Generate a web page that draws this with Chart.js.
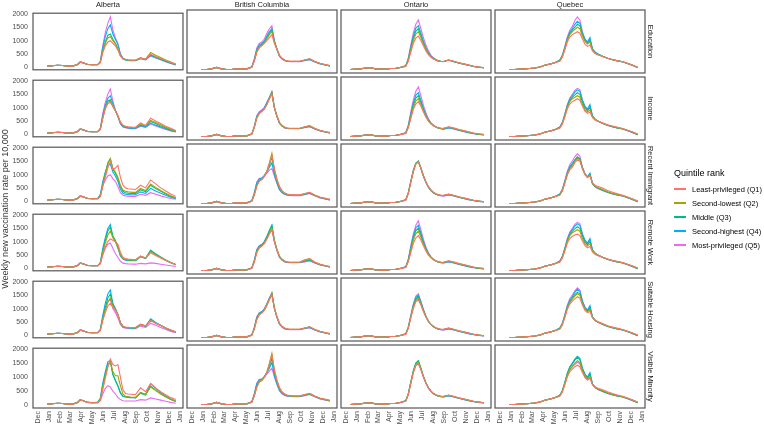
<!DOCTYPE html>
<html>
<head>
<meta charset="utf-8">
<script src="https://cdn.jsdelivr.net/npm/chart.js@4/dist/chart.umd.min.js"></script>
<style>
body{margin:0;background:#fff;width:764px;height:428px;position:relative;overflow:hidden;font-family:"Liberation Sans",Arial,sans-serif}
canvas{position:absolute}
.txt{position:absolute;white-space:nowrap;color:#1a1a1a}
</style>
</head>
<body>
<script>
// x = days since 1 Dec 2020
const days = [13,27,41,55,69,83,97,111,118,125,139,153,167,174,181,188,195,202,209,216,223,230,237,244,251,258,265,272,286,300,314,328,342,356,370,384];
const monthTicks = [0,31,62,90,121,151,182,212,243,274,304,335,365,396];
const monthLabels = ['Dec','Jan','Feb','Mar','Apr','May','Jun','Jul','Aug','Sep','Oct','Nov','Dec','Jan'];
const yTicks = [0,500,1000,1500,2000];
const provinces = ['Alberta','British Columbia','Ontario','Quebec'];
const measures = ['Education','Income','Recent Immigrant','Remote Work','Suitable Housing','Visible Minority'];
const quintiles = ['Least-privileged (Q1)','Second-lowest (Q2)','Middle (Q3)','Second-highest (Q4)','Most-privileged (Q5)'];
const colors = ['#F8766D','#A3A500','#00BF7D','#00B0F6','#E76BF3'];

// values before mid-May, shared by quintiles of a province
const albertaEarly = [null,40,50,70,60,40,40,100,190,170,100,90];
const bcEarly = [null,20,20,40,90,40,20,20,30,40,40,40];
const ontarioEarly = [20,30,40,70,80,40,30,30,40,50,60,90];
const quebecEarly = [null,20,20,30,40,50,70,100,130,160,200,250];

const albertaEducation = [
  albertaEarly.concat([90,170,550,800,950,1000,900,800,650,420,320,290,270,260,260,260,340,290,490,400,330,250,180,110]),
  albertaEarly.concat([90,180,600,900,1100,1150,1000,880,700,440,330,300,280,270,270,270,350,300,550,450,360,270,190,120]),
  albertaEarly.concat([90,180,650,950,1200,1250,1050,900,700,430,310,270,250,240,240,240,320,270,460,380,300,220,160,100]),
  albertaEarly.concat([100,200,750,1150,1450,1600,1250,1050,850,480,330,280,260,250,250,250,340,290,440,360,290,210,150,90]),
  albertaEarly.concat([100,210,800,1300,1650,1900,1400,1100,900,500,340,290,270,260,250,250,350,290,420,350,280,200,140,80])
];
const albertaIncome = [
  albertaEarly.concat([90,180,600,950,1150,1200,1050,880,700,450,340,300,280,270,260,260,420,330,600,500,400,300,220,140]),
  albertaEarly.concat([90,180,620,980,1200,1250,1050,880,700,440,330,290,270,260,250,250,380,310,520,440,350,260,190,120]),
  albertaEarly.concat([90,180,620,1000,1250,1300,1050,880,680,420,310,270,250,240,240,240,350,300,480,400,310,230,160,100]),
  albertaEarly.concat([100,200,700,1100,1350,1450,1150,900,680,400,290,250,230,220,220,220,320,270,420,340,270,200,140,90]),
  albertaEarly.concat([100,220,780,1200,1500,1700,1250,900,650,380,270,240,220,210,210,210,300,250,380,310,240,180,120,80])
];
const albertaImmigrant = [
  albertaEarly.concat([90,170,550,900,1250,1500,1200,1250,1350,900,600,500,470,460,450,440,600,500,800,650,500,380,270,180]),
  albertaEarly.concat([90,180,600,1000,1400,1600,1250,1100,900,600,420,370,350,340,330,330,480,400,650,520,400,300,200,130]),
  albertaEarly.concat([90,180,620,1050,1450,1600,1200,1050,850,550,370,320,300,290,290,290,430,350,600,480,370,270,180,120]),
  albertaEarly.concat([110,250,750,1100,1350,1400,1100,950,750,450,300,260,250,240,240,240,350,290,480,380,300,220,150,100]),
  albertaEarly.concat([100,220,600,800,950,1000,850,750,550,320,220,200,190,180,180,180,260,220,320,260,200,150,100,70])
];
const albertaRemote = [
  albertaEarly.concat([90,170,500,800,1000,1100,1050,1000,900,600,400,360,340,330,320,320,450,380,580,480,380,290,200,130]),
  albertaEarly.concat([90,180,600,950,1250,1400,1150,1000,800,500,370,340,320,310,310,310,450,380,620,500,400,300,210,140]),
  albertaEarly.concat([90,180,650,1050,1400,1550,1200,1050,800,500,360,320,300,290,290,290,440,370,680,540,420,310,210,140]),
  albertaEarly.concat([100,210,750,1150,1500,1650,1200,1000,750,460,340,300,290,280,280,280,430,360,650,520,400,300,200,130]),
  albertaEarly.concat([90,170,500,750,900,950,750,550,400,260,190,170,160,155,150,150,180,160,200,180,150,120,90,60])
];
const albertaHousing = [
  albertaEarly.concat([90,170,550,850,1100,1200,1050,950,780,470,340,310,300,290,290,290,420,350,550,450,360,270,190,120]),
  albertaEarly.concat([90,180,600,950,1250,1400,1100,950,780,470,330,300,290,280,280,280,410,340,560,450,360,270,190,120]),
  albertaEarly.concat([90,180,650,1050,1400,1550,1150,1000,780,460,320,290,280,270,270,270,400,330,580,460,360,260,180,120]),
  albertaEarly.concat([100,210,750,1200,1550,1700,1200,1000,780,460,320,290,280,270,270,270,400,330,620,480,370,270,180,120]),
  albertaEarly.concat([100,200,650,1000,1250,1350,1000,850,650,400,290,260,250,240,240,240,340,290,450,370,290,210,140,90])
];
const albertaMinority = [
  albertaEarly.concat([90,170,550,950,1350,1650,1450,1400,1450,1000,550,420,400,390,380,380,620,480,780,620,480,370,270,200]),
  albertaEarly.concat([90,180,650,1050,1400,1550,1200,1050,1050,700,400,320,300,290,285,280,450,380,650,520,400,300,200,130]),
  albertaEarly.concat([100,200,700,1100,1450,1550,1100,880,700,450,320,290,280,270,265,260,430,360,680,540,410,300,200,130]),
  albertaEarly.concat([110,250,800,1200,1550,1600,1100,890,680,430,320,300,290,280,275,270,460,380,760,600,450,330,220,150]),
  albertaEarly.concat([90,160,400,600,700,650,500,400,280,200,160,150,150,150,150,150,200,180,260,220,180,140,100,70])
];

const bcEducation = [
  bcEarly.concat([90,300,600,750,820,900,1000,1100,1200,900,700,500,400,340,310,300,300,300,340,380,290,230,190,150]),
  bcEarly.concat([90,300,620,780,850,930,1050,1200,1300,950,720,500,400,340,310,300,300,300,340,380,290,230,190,150]),
  bcEarly.concat([100,320,650,800,870,950,1100,1250,1350,950,700,480,390,330,300,290,290,290,330,370,280,220,180,140]),
  bcEarly.concat([100,340,700,850,900,980,1150,1300,1400,980,700,480,380,320,300,290,290,290,330,360,280,220,180,140]),
  bcEarly.concat([110,380,750,900,950,1050,1250,1400,1500,1000,700,470,370,320,300,280,280,280,320,350,270,210,170,140])
];
const bcIncome = [
  bcEarly.concat([100,320,650,800,870,950,1100,1300,1450,1000,720,500,400,340,310,300,300,300,350,390,300,230,190,150]),
  bcEarly.concat([100,320,650,800,870,950,1100,1300,1500,1000,720,490,390,330,300,290,290,290,340,380,290,220,180,150]),
  bcEarly.concat([100,330,680,820,880,970,1120,1320,1500,1000,700,480,380,320,300,290,290,290,330,370,280,220,180,140]),
  bcEarly.concat([100,340,700,840,900,990,1150,1330,1500,980,690,470,380,320,300,290,290,290,330,360,280,220,180,140]),
  bcEarly.concat([110,360,720,860,920,1000,1180,1350,1550,1000,700,470,370,310,290,280,280,280,320,350,270,210,170,140])
];
const bcImmigrant = [
  bcEarly.concat([90,300,600,780,830,930,1100,1350,1650,1200,850,600,450,380,340,320,310,310,360,400,310,240,200,160]),
  bcEarly.concat([90,310,620,790,840,950,1120,1400,1720,1150,820,560,430,370,330,310,300,300,350,390,300,230,190,150]),
  bcEarly.concat([100,330,650,800,850,950,1100,1300,1600,1100,800,560,430,370,330,310,300,300,340,380,300,230,190,150]),
  bcEarly.concat([110,360,720,850,880,970,1100,1250,1400,1000,720,500,400,340,310,300,290,290,330,370,290,220,180,140]),
  bcEarly.concat([110,380,740,870,880,950,1050,1150,1200,950,700,480,380,330,300,290,280,280,320,360,280,210,170,140])
];
const bcRemote = [
  bcEarly.concat([90,300,620,780,840,930,1080,1250,1400,1000,720,500,400,340,310,300,300,300,380,420,310,240,190,150]),
  bcEarly.concat([90,310,640,800,860,950,1100,1300,1450,1020,720,500,400,340,310,300,300,300,370,410,300,230,190,150]),
  bcEarly.concat([100,330,680,820,880,980,1150,1350,1550,1050,730,490,390,330,300,290,290,290,340,380,290,220,180,140]),
  bcEarly.concat([100,350,710,850,900,1000,1180,1380,1550,1020,710,480,380,320,300,290,290,290,330,370,280,220,180,140]),
  bcEarly.concat([110,370,730,860,900,980,1120,1280,1400,980,690,460,370,310,290,280,280,280,310,340,270,210,170,140])
];
const bcHousing = [
  bcEarly.concat([90,300,620,790,850,940,1100,1300,1450,1000,720,500,400,340,310,300,300,300,340,380,290,230,190,150]),
  bcEarly.concat([90,310,640,800,860,950,1120,1320,1500,1020,720,500,400,340,310,300,300,300,340,380,290,230,190,150]),
  bcEarly.concat([100,320,660,820,870,960,1130,1330,1500,1020,710,490,390,330,300,290,290,290,330,370,280,220,180,140]),
  bcEarly.concat([100,340,700,840,890,980,1150,1350,1500,1000,700,480,380,320,300,290,290,290,330,360,280,220,180,140]),
  bcEarly.concat([110,360,720,860,900,990,1160,1360,1550,1000,700,470,370,310,290,280,280,280,320,350,270,210,170,140])
];
const bcMinority = [
  bcEarly.concat([90,300,600,780,830,930,1100,1380,1700,1200,850,600,450,380,340,320,310,310,360,400,310,240,200,160]),
  bcEarly.concat([90,310,620,790,840,950,1120,1420,1750,1150,820,560,430,370,330,310,300,300,350,390,300,230,190,150]),
  bcEarly.concat([100,330,650,800,850,950,1100,1320,1600,1100,800,560,430,370,330,310,300,300,340,380,300,230,190,150]),
  bcEarly.concat([110,360,720,850,880,970,1100,1250,1450,1000,720,500,400,340,310,300,290,290,330,370,290,220,180,140]),
  bcEarly.concat([110,380,740,870,880,950,1050,1150,1250,950,700,480,380,330,300,290,280,280,320,360,280,210,170,140])
];

const ontarioEducation = [
  ontarioEarly.concat([120,300,600,900,1080,1150,1000,820,650,520,430,370,330,300,290,290,340,300,250,210,170,130,100,80]),
  ontarioEarly.concat([130,330,680,1000,1220,1300,1100,880,700,550,450,380,340,310,290,290,340,300,250,210,170,130,100,80]),
  ontarioEarly.concat([140,350,720,1080,1320,1400,1180,930,730,570,460,390,340,310,290,290,340,290,240,200,160,120,100,80]),
  ontarioEarly.concat([140,370,780,1150,1420,1500,1250,980,760,590,470,390,340,310,290,280,330,280,240,200,160,120,90,80]),
  ontarioEarly.concat([150,400,850,1250,1550,1700,1400,1100,850,650,500,420,360,320,300,290,340,290,240,200,160,120,100,80])
];
const ontarioIncome = [
  ontarioEarly.concat([120,310,620,930,1120,1200,1050,860,680,540,450,390,350,320,300,300,350,310,260,220,180,140,110,90]),
  ontarioEarly.concat([130,330,680,1000,1220,1300,1100,880,700,550,450,380,340,310,290,290,340,300,250,210,170,130,100,80]),
  ontarioEarly.concat([140,350,720,1080,1320,1400,1180,930,730,570,460,390,340,310,290,290,330,290,240,200,160,120,100,80]),
  ontarioEarly.concat([140,370,780,1150,1420,1500,1250,980,760,590,470,390,340,300,280,270,320,280,230,190,150,120,90,80]),
  ontarioEarly.concat([150,400,850,1250,1550,1700,1400,1080,820,620,480,400,340,300,280,270,310,270,230,190,150,110,90,70])
];
const ontarioImmigrant = [
  ontarioEarly.concat([130,350,730,1100,1350,1430,1220,970,760,590,480,400,350,320,300,300,340,300,250,210,170,130,100,80]),
  ontarioEarly.concat([140,360,740,1110,1360,1440,1220,960,750,580,470,390,340,310,290,290,330,290,240,200,160,120,100,80]),
  ontarioEarly.concat([140,360,750,1120,1370,1450,1220,960,750,580,470,390,340,310,290,290,330,290,240,200,160,120,100,80]),
  ontarioEarly.concat([140,370,760,1130,1380,1460,1220,950,740,570,460,380,330,300,280,280,320,280,230,190,150,120,90,80]),
  ontarioEarly.concat([150,380,770,1140,1380,1450,1200,940,730,560,450,370,330,300,280,270,310,270,230,190,150,110,90,70])
];
const ontarioRemote = [
  ontarioEarly.concat([120,310,620,930,1120,1200,1050,860,680,540,450,390,350,320,300,300,350,310,260,220,180,140,110,90]),
  ontarioEarly.concat([130,340,700,1040,1270,1350,1140,910,720,560,460,390,340,310,290,290,340,300,250,210,170,130,100,80]),
  ontarioEarly.concat([140,360,740,1110,1370,1450,1220,960,750,580,460,390,340,310,290,290,330,290,240,200,160,120,100,80]),
  ontarioEarly.concat([140,380,800,1190,1460,1550,1290,1000,770,590,470,390,340,300,280,280,320,280,230,190,150,120,90,80]),
  ontarioEarly.concat([150,400,850,1250,1550,1700,1400,1080,820,620,480,400,340,300,280,270,310,270,230,190,150,110,90,70])
];
const ontarioHousing = [
  ontarioEarly.concat([130,330,680,1000,1230,1300,1120,900,710,560,460,390,350,320,300,300,340,300,250,210,170,130,100,80]),
  ontarioEarly.concat([130,340,700,1040,1270,1350,1150,920,720,560,460,390,340,310,290,290,340,300,250,210,170,130,100,80]),
  ontarioEarly.concat([140,350,720,1080,1320,1400,1180,940,730,570,460,390,340,310,290,290,330,290,240,200,160,120,100,80]),
  ontarioEarly.concat([140,360,740,1110,1370,1450,1220,960,740,570,460,380,330,300,280,280,320,280,230,190,150,120,90,80]),
  ontarioEarly.concat([150,370,770,1150,1420,1500,1250,980,750,580,460,380,330,300,280,270,310,270,230,190,150,110,90,70])
];
const ontarioMinority = [
  ontarioEarly.concat([130,350,730,1090,1330,1400,1200,960,750,580,470,390,350,320,300,300,340,300,250,210,170,130,100,80]),
  ontarioEarly.concat([140,360,750,1120,1370,1450,1230,970,750,580,470,390,340,310,290,290,330,290,240,200,160,120,100,80]),
  ontarioEarly.concat([140,370,770,1150,1410,1500,1250,980,760,580,470,390,340,310,290,290,330,290,240,200,160,120,100,80]),
  ontarioEarly.concat([150,380,780,1160,1420,1500,1250,980,750,580,460,380,330,300,280,280,320,280,230,190,150,120,90,80]),
  ontarioEarly.concat([140,360,750,1110,1360,1430,1200,950,740,570,460,380,330,300,280,270,310,270,230,190,150,110,90,70])
];

const quebecEducation = [
  quebecEarly.concat([300,430,680,950,1120,1200,1250,1300,1250,1050,880,800,850,650,560,520,460,400,350,310,280,220,160,90]),
  quebecEarly.concat([310,450,710,1000,1200,1300,1380,1450,1400,1150,970,880,950,680,580,530,470,400,350,310,280,220,160,90]),
  quebecEarly.concat([320,460,730,1030,1240,1350,1450,1550,1500,1200,1000,920,1000,700,600,540,470,400,350,310,280,220,160,90]),
  quebecEarly.concat([330,480,760,1070,1290,1400,1550,1650,1580,1250,1050,950,1100,720,610,550,470,400,350,310,280,220,160,90]),
  quebecEarly.concat([340,500,790,1120,1350,1480,1680,1800,1700,1300,1050,950,1050,700,600,540,460,400,350,310,270,210,150,80])
];
const quebecIncome = [
  quebecEarly.concat([300,430,680,950,1120,1200,1250,1300,1250,1050,880,800,850,660,580,540,480,420,370,330,290,230,170,100]),
  quebecEarly.concat([310,450,710,1000,1200,1300,1350,1400,1350,1100,930,850,920,680,590,540,470,410,360,320,280,220,160,90]),
  quebecEarly.concat([320,460,730,1030,1240,1350,1430,1500,1450,1180,980,900,1000,700,600,540,470,400,350,310,280,220,160,90]),
  quebecEarly.concat([330,480,760,1070,1290,1400,1520,1600,1550,1250,1050,950,1100,720,610,550,470,400,350,310,270,210,150,80]),
  quebecEarly.concat([340,490,780,1100,1320,1450,1580,1650,1600,1250,1030,930,1050,700,600,540,460,390,340,300,270,210,150,80])
];
const quebecImmigrant = [
  quebecEarly.concat([300,440,700,980,1160,1250,1400,1500,1450,1200,1000,900,950,720,640,600,540,460,400,350,300,240,170,100]),
  quebecEarly.concat([310,450,720,1010,1200,1300,1450,1550,1500,1200,1000,900,980,700,610,560,490,420,360,320,280,220,160,90]),
  quebecEarly.concat([320,460,730,1030,1230,1340,1480,1580,1520,1220,1010,910,1000,700,600,550,480,410,350,310,280,220,160,90]),
  quebecEarly.concat([330,480,760,1060,1270,1380,1500,1600,1540,1230,1020,920,1050,700,600,540,470,400,350,310,270,210,150,80]),
  quebecEarly.concat([340,500,790,1110,1340,1460,1600,1700,1620,1260,1030,920,1000,690,590,530,460,390,340,300,270,210,150,80])
];
const quebecRemote = [
  quebecEarly.concat([300,430,670,940,1100,1180,1220,1250,1200,1020,860,790,830,650,570,530,470,410,360,320,290,230,170,100]),
  quebecEarly.concat([310,450,710,1000,1200,1300,1350,1400,1350,1100,930,850,920,680,590,540,470,410,360,320,280,220,160,90]),
  quebecEarly.concat([320,460,730,1030,1240,1350,1430,1500,1450,1180,980,900,1000,700,600,540,470,400,350,310,280,220,160,90]),
  quebecEarly.concat([330,480,760,1070,1290,1400,1520,1600,1550,1250,1050,950,1100,720,610,550,470,400,350,310,270,210,150,80]),
  quebecEarly.concat([340,490,780,1100,1320,1450,1580,1650,1600,1250,1030,930,1050,700,600,540,460,390,340,300,270,210,150,80])
];
const quebecHousing = [
  quebecEarly.concat([300,440,690,970,1150,1250,1330,1400,1350,1120,940,860,900,690,600,560,490,420,370,330,290,230,170,100]),
  quebecEarly.concat([310,450,720,1010,1210,1320,1420,1500,1450,1170,980,890,960,700,600,550,480,410,360,320,280,220,160,90]),
  quebecEarly.concat([320,460,730,1030,1240,1350,1470,1550,1500,1200,1000,910,1020,700,600,540,470,400,350,310,280,220,160,90]),
  quebecEarly.concat([330,480,760,1070,1290,1400,1550,1650,1580,1250,1050,950,1100,720,610,550,470,400,350,310,270,210,150,80]),
  quebecEarly.concat([340,500,790,1110,1330,1460,1600,1700,1620,1260,1040,930,1050,700,600,540,460,390,340,300,270,210,150,80])
];
const quebecMinority = [
  quebecEarly.concat([300,430,680,950,1130,1220,1300,1350,1300,1100,930,850,900,700,620,580,520,450,390,340,300,240,170,100]),
  quebecEarly.concat([310,450,720,1010,1210,1320,1420,1500,1450,1170,980,890,960,700,600,550,490,420,360,320,280,220,160,90]),
  quebecEarly.concat([320,470,750,1060,1280,1390,1520,1600,1540,1230,1030,930,1050,710,600,540,470,400,350,310,280,220,160,90]),
  quebecEarly.concat([330,480,770,1080,1300,1420,1560,1650,1580,1260,1050,950,1100,720,610,550,470,400,350,310,270,210,150,80]),
  quebecEarly.concat([320,460,720,1000,1190,1290,1380,1450,1400,1150,960,870,950,690,590,530,460,390,340,300,270,210,150,80])
];

// rows = measures, columns = provinces
const panelData = [
  [albertaEducation, bcEducation, ontarioEducation, quebecEducation],
  [albertaIncome, bcIncome, ontarioIncome, quebecIncome],
  [albertaImmigrant, bcImmigrant, ontarioImmigrant, quebecImmigrant],
  [albertaRemote, bcRemote, ontarioRemote, quebecRemote],
  [albertaHousing, bcHousing, ontarioHousing, quebecHousing],
  [albertaMinority, bcMinority, ontarioMinority, quebecMinority]
];

const panelLeft = [33, 187, 341, 495];
const panelTop = [10, 77, 144, 211, 278, 345];
const panelW = 150, panelH = 63, pad = 6, padR = 14, yAxisW = 33, xAxisH = 20;

Chart.defaults.font.family = "'Liberation Sans', Arial, sans-serif";

// grey box round each panel
const panelFrame = {
  id: 'panelFrame',
  afterDatasetsDraw(chart) {
    const {ctx, chartArea: a} = chart;
    ctx.save();
    ctx.strokeStyle = '#555555';
    ctx.lineWidth = 1.2;
    ctx.strokeRect(a.left, a.top, a.right - a.left, a.bottom - a.top);
    ctx.restore();
  }
};

function addText(text, css) {
  const d = document.createElement('div');
  d.className = 'txt';
  d.textContent = text;
  Object.assign(d.style, css);
  document.body.appendChild(d);
  return d;
}

panelData.forEach((rowSets, r) => {
  rowSets.forEach((series, c) => {
    const isLeft = c === 0, isBottom = r === panelData.length - 1;
    const padL = isLeft ? 0 : pad;
    const extraL = isLeft ? yAxisW : 0;
    const w = panelW + padL + padR + extraL;
    const h = panelH + 2 * pad + (isBottom ? xAxisH : 0);
    const cv = document.createElement('canvas');
    cv.width = w; cv.height = h;
    cv.style.left = (panelLeft[c] - padL - extraL) + 'px';
    cv.style.top = (panelTop[r] - pad) + 'px';
    cv.style.width = w + 'px';
    cv.style.height = h + 'px';
    document.body.appendChild(cv);

    series.forEach((s, k) => {
      if (s.length !== days.length) throw new Error(measures[r] + ' ' + provinces[c] + ' Q' + (k + 1) + ' has ' + s.length + ' values');
    });

    new Chart(cv, {
      type: 'line',
      data: {
        datasets: series.map((vals, k) => ({
          label: quintiles[k],
          data: days.map((d, i) => ({x: d, y: vals[i]})),
          borderColor: colors[k],
          borderWidth: 1.1,
          pointRadius: 0,
          tension: 0,
          spanGaps: false
        }))
      },
      options: {
        responsive: false,
        animation: false,
        events: [],
        layout: {padding: {left: padL, right: padR, top: pad, bottom: pad}},
        plugins: {legend: {display: false}, tooltip: {enabled: false}},
        scales: {
          x: {
            type: 'linear', min: -13, max: 404,
            display: isBottom,
            afterBuildTicks: s => { s.ticks = monthTicks.map(v => ({value: v})); },
            afterFit: s => { if (isBottom) s.height = xAxisH; },
            grid: {display: false, drawTicks: false},
            border: {display: false},
            ticks: {
              autoSkip: false, minRotation: 90, maxRotation: 90, padding: 3,
              color: '#4d4d4d', font: {size: 7},
              callback: v => monthLabels[monthTicks.indexOf(v)]
            }
          },
          y: {
            min: -100, max: 2035,
            display: isLeft,
            afterBuildTicks: s => { s.ticks = yTicks.map(v => ({value: v})); },
            afterFit: s => { if (isLeft) s.width = yAxisW; },
            grid: {display: false, drawTicks: false},
            border: {display: false},
            ticks: {padding: 5, color: '#4d4d4d', font: {size: 7}, callback: v => String(v)}
          }
        }
      },
      plugins: [panelFrame]
    });
  });
});

// facet strips
provinces.forEach((p, c) => {
  addText(p, {left: panelLeft[c] + 'px', top: '0px', width: panelW + 'px', textAlign: 'center',
    fontSize: '7.5px', lineHeight: '9px'});
});
measures.forEach((m, r) => {
  const cy = panelTop[r] + panelH / 2;
  addText(m, {left: (650.5 - panelH / 2) + 'px', top: (cy - 4.5) + 'px', width: panelH + 'px', height: '9px',
    textAlign: 'center', fontSize: '7.5px', lineHeight: '9px', transform: 'rotate(90deg)'});
});

// y axis title
addText('Weekly new vaccination rate per 10,000', {left: '-120px', top: '204px', width: '250px',
  height: '10px', textAlign: 'center', fontSize: '9px', lineHeight: '10px', transform: 'rotate(-90deg)', color: '#333'});

// legend
addText('Quintile rank', {left: '674px', top: '167.5px', fontSize: '9px', lineHeight: '11px', color: '#000'});
quintiles.forEach((q, k) => {
  const cy = 189 + k * 14;
  const sw = document.createElement('div');
  Object.assign(sw.style, {position: 'absolute', left: '674px', top: (cy - 0.6) + 'px', width: '12px', height: '1.2px', background: colors[k]});
  document.body.appendChild(sw);
  addText(q, {left: '692px', top: (cy - 4.5) + 'px', fontSize: '7.5px', lineHeight: '9px', color: '#000'});
});
</script>
</body>
</html>
